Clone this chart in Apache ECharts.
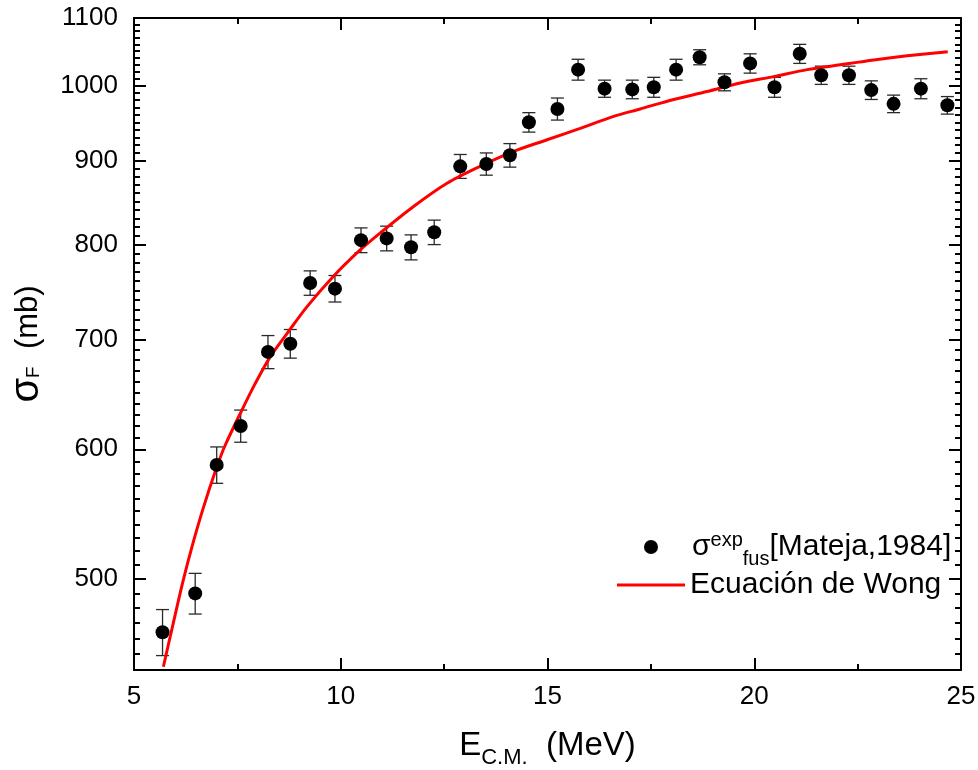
<!DOCTYPE html>
<html>
<head>
<meta charset="utf-8">
<title>Sección eficaz de fusión</title>
<script src="https://cdn.jsdelivr.net/npm/echarts@6/dist/echarts.min.js"></script>
<style>
  html, body { margin: 0; padding: 0; background: #ffffff; }
  #chart { width: 978px; height: 770px; }
</style>
</head>
<body>
<div id="chart"></div>
<script>
// Experimental fusion cross sections (Mateja, 1984): E_cm in MeV, sigma and its error in mb
const energy = [5.69, 6.48, 7.00, 7.58, 8.24, 8.78, 9.26, 9.86, 10.49, 11.11, 11.70, 12.26,
  12.89, 13.52, 14.09, 14.55, 15.24, 15.74, 16.38, 17.05, 17.57, 18.11, 18.68, 19.28,
  19.90, 20.49, 21.10, 21.62, 22.29, 22.83, 23.37, 24.03, 24.67];
const sigmaExp = [464, 490, 587, 620, 688, 696, 758, 752, 805, 807, 797, 814,
  893, 896, 907, 950, 968, 1023, 996, 995, 998, 1023, 1041, 1005,
  1032, 998, 1046, 1015, 1015, 994, 975, 996, 973];
const sigmaErr = [15, 14, 15, 14, 16, 14, 13, 14, 14, 14, 14, 14,
  15, 14, 15, 13, 15, 15, 12, 13, 14, 15, 11, 12,
  14, 14, 14, 13, 13, 13, 12, 14, 12];

// Wong formula curve
const wongEnergy = [5.71, 5.95, 6.19, 6.40, 6.68, 7.00, 7.20, 7.61, 7.93, 8.29, 8.70, 9.18,
  9.82, 10.47, 10.95, 11.76, 12.57, 13.37, 14.18, 14.99, 15.79, 16.60, 17.24, 18.05,
  18.86, 19.66, 20.47, 21.28, 22.08, 22.89, 23.70, 24.68];
const wongSigma = [442, 470, 499, 523, 553, 585, 603, 634, 658, 683, 706, 733,
  765, 794, 813, 844, 872, 893, 912, 927, 942, 958, 968, 981,
  992, 1004, 1013, 1023, 1030, 1037, 1043, 1049];

// Axis ticks
const xRange = [5, 25];
const xStep = 5;
const yRange = [440, 1100];
const yMajorTicks = [500, 600, 700, 800, 900, 1000, 1100];
const yMinorTicks = [];
for (let v = 440; v <= 1100; v += 10) yMinorTicks.push(v);

const expName = 'σexp fus [Mateja,1984]';
const wongName = 'Ecuación de Wong';

const FONT = '"Liberation Sans", Arial, Helvetica, sans-serif';
const BLACK = '#000000';

const chart = echarts.init(document.getElementById('chart'), null, { renderer: 'canvas' });

function xAxisSide(position, withLabels) {
  return {
    type: 'value',
    position: position,
    min: xRange[0],
    max: xRange[1],
    interval: xStep,
    axisLine: { show: true, onZero: false, lineStyle: { color: BLACK, width: 2 } },
    axisTick: { show: true, inside: true, length: 12, lineStyle: { color: BLACK, width: 2 } },
    minorTick: { show: true, splitNumber: 2, length: 6, lineStyle: { color: BLACK, width: 2 } },
    splitLine: { show: false },
    minorSplitLine: { show: false },
    axisLabel: {
      show: withLabels,
      margin: 14,
      fontSize: 26,
      fontFamily: FONT,
      color: BLACK,
      showMinLabel: true,
      showMaxLabel: true,
      formatter: v => String(v)
    }
  };
}

function yAxisSide(position, major, withLabels) {
  return {
    type: 'log',
    position: position,
    min: yRange[0],
    max: yRange[1],
    axisLine: { show: major, lineStyle: { color: BLACK, width: 2 } },
    axisTick: {
      show: true, inside: true, length: major ? 12 : 6,
      customValues: major ? yMajorTicks : yMinorTicks,
      lineStyle: { color: BLACK, width: 2 }
    },
    minorTick: { show: false },
    splitLine: { show: false },
    axisLabel: {
      show: withLabels,
      customValues: yMajorTicks,
      margin: 16,
      fontSize: 26,
      fontFamily: FONT,
      color: BLACK,
      formatter: v => String(Math.round(v))
    }
  };
}

const xAxisBottom = xAxisSide('bottom', true);
xAxisBottom.name = '{e|E}{sub|C.M.}{b|  (MeV)}';
xAxisBottom.nameLocation = 'middle';
xAxisBottom.nameGap = 56;
xAxisBottom.nameTextStyle = {
  fontFamily: FONT, color: BLACK,
  rich: {
    e: { fontFamily: FONT, color: BLACK, fontSize: 33, lineHeight: 40 },
    sub: { fontFamily: FONT, color: BLACK, fontSize: 22, lineHeight: 40, padding: [23, 0, 0, 0] },
    b: { fontFamily: FONT, color: BLACK, fontSize: 33, lineHeight: 40 }
  }
};

const yAxisLeft = yAxisSide('left', true, true);
yAxisLeft.name = '{s|σ}{f|F}{b|  (mb)}';
yAxisLeft.nameLocation = 'middle';
yAxisLeft.nameRotate = 90;
yAxisLeft.nameGap = 77;
yAxisLeft.nameTextStyle = {
  fontFamily: FONT, color: BLACK,
  rich: {
    s: { fontFamily: FONT, color: BLACK, fontSize: 40, lineHeight: 44, padding: [0, 0, 2, 0] },
    f: { fontFamily: FONT, color: BLACK, fontSize: 19, lineHeight: 44, padding: [12, 0, 0, 0] },
    b: { fontFamily: FONT, color: BLACK, fontSize: 31, lineHeight: 44 }
  }
};

const legendRich = {
  s: { fontFamily: FONT, color: BLACK, fontSize: 30, lineHeight: 36 },
  sup: { fontFamily: FONT, color: BLACK, fontSize: 20, lineHeight: 36, padding: [0, 0, 14, 0] },
  sub: { fontFamily: FONT, color: BLACK, fontSize: 20, lineHeight: 36, padding: [24, 0, 0, 0] },
  b: { fontFamily: FONT, color: BLACK, fontSize: 30, lineHeight: 36 }
};

const option = {
  backgroundColor: '#ffffff',
  animation: false,
  grid: {
    left: 134, right: 17, top: 18, bottom: 100,
    containLabel: false,
    outerBoundsMode: 'none'
  },
  legend: [
    {
      data: [{ name: expName, icon: 'circle', itemStyle: { color: BLACK, opacity: 1 } }],
      left: 644, top: 525, padding: 0,
      itemWidth: 14, itemHeight: 14,
      itemGap: 0,
      selectedMode: false,
      formatter: () => '{s|σ}{sup|exp}{sub|fus}{b|[Mateja,1984]}',
      textStyle: { fontFamily: FONT, color: BLACK, fontSize: 30, lineHeight: 36, padding: [0, 0, 0, 29], rich: legendRich }
    },
    {
      data: [{ name: wongName, icon: 'rect', itemStyle: { color: '#ff0000' } }],
      left: 617, top: 567, padding: 0,
      itemWidth: 68, itemHeight: 3,
      selectedMode: false,
      textStyle: { fontFamily: FONT, color: BLACK, fontSize: 30, lineHeight: 36 }
    }
  ],
  xAxis: [xAxisBottom, xAxisSide('top', false)],
  yAxis: [
    yAxisLeft,
    yAxisSide('left', false, false),
    yAxisSide('right', true, false),
    yAxisSide('right', false, false)
  ],
  series: [
    {
      name: 'error',
      type: 'custom',
      xAxisIndex: 0,
      yAxisIndex: 0,
      z: 2,
      silent: true,
      data: energy.map((e, i) => [e, sigmaExp[i], sigmaErr[i]]),
      encode: { x: 0, y: 1 },
      renderItem: function (params, api) {
        const x = api.value(0);
        const y = api.value(1);
        const err = api.value(2);
        const hi = api.coord([x, y + err]);
        const lo = api.coord([x, y - err]);
        const half = 6.5;
        const style = { stroke: '#2a2a2a', lineWidth: 1.3 };
        return {
          type: 'group',
          children: [
            { type: 'line', shape: { x1: hi[0], y1: hi[1], x2: lo[0], y2: lo[1] }, style: style },
            { type: 'line', shape: { x1: hi[0] - half, y1: hi[1], x2: hi[0] + half, y2: hi[1] }, style: style },
            { type: 'line', shape: { x1: lo[0] - half, y1: lo[1], x2: lo[0] + half, y2: lo[1] }, style: style }
          ]
        };
      }
    },
    {
      name: wongName,
      type: 'line',
      xAxisIndex: 0,
      yAxisIndex: 0,
      z: 3,
      smooth: 0.3,
      symbol: 'none',
      showSymbol: false,
      color: '#ff0000',
      lineStyle: { color: '#ff0000', width: 3 },
      data: wongEnergy.map((e, i) => [e, wongSigma[i]])
    },
    {
      name: expName,
      type: 'scatter',
      xAxisIndex: 0,
      yAxisIndex: 0,
      z: 4,
      symbol: 'circle',
      symbolSize: 14,
      itemStyle: { color: BLACK, opacity: 1 },
      data: energy.map((e, i) => [e, sigmaExp[i]])
    }
  ]
};

chart.setOption(option);
</script>
</body>
</html>
